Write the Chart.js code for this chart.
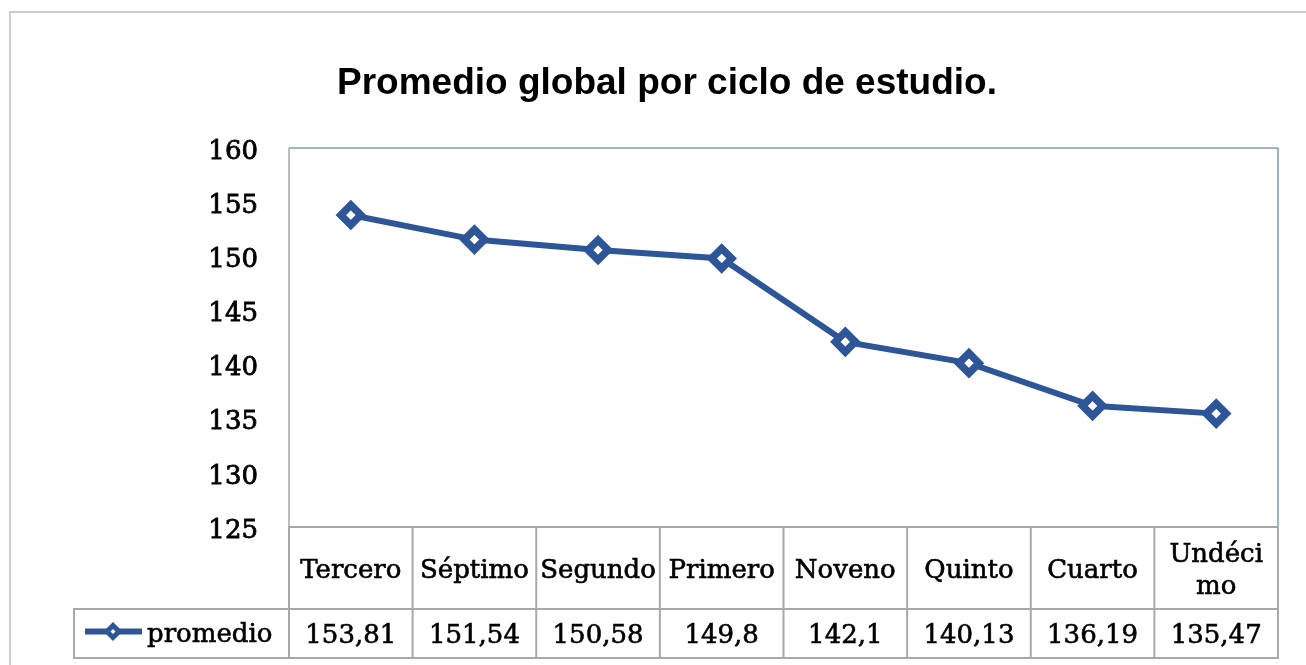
<!DOCTYPE html>
<html><head><meta charset="utf-8">
<script src="https://cdn.jsdelivr.net/npm/chart.js@4/dist/chart.umd.min.js"></script>
<style>html,body{margin:0;padding:0;background:#fff;overflow:hidden}</style>
</head><body>
<canvas id="c" width="1306" height="665"></canvas>
<script>
const TITLE = 'Promedio global por ciclo de estudio.';
const categories = ['Tercero','Séptimo','Segundo','Primero','Noveno','Quinto','Cuarto','Undécimo'];
const categoryLines = [['Tercero'],['Séptimo'],['Segundo'],['Primero'],['Noveno'],['Quinto'],['Cuarto'],['Undéci','mo']];
const seriesName = 'promedio';
const promedio = [153.81,151.54,150.58,149.8,142.1,140.13,136.19,135.47];
const yTicks = [125,130,135,140,145,150,155,160];

const SERIF = '"DejaVu Serif", serif';
const BLUE = '#2E5597';
const GRID = '#a8a8a8';
const INK = '#000';

function seg(ctx,x1,y1,x2,y2){ctx.beginPath();ctx.moveTo(x1,y1);ctx.lineTo(x2,y2);ctx.stroke();}
function diamond(ctx,x,y,r,bw){
  ctx.save();ctx.beginPath();
  ctx.moveTo(x,y-r);ctx.lineTo(x+r,y);ctx.lineTo(x,y+r);ctx.lineTo(x-r,y);ctx.closePath();
  ctx.fillStyle='#fff';ctx.fill();ctx.lineWidth=bw;ctx.strokeStyle=BLUE;ctx.lineJoin='miter';ctx.stroke();ctx.restore();
}
function txt(ctx,t,x,y){ctx.fillText(t,x,y);ctx.strokeText(t,x,y);}
const fmt = v => String(v).replace('.', ',');

const deco = {
  id:'deco',
  beforeDraw(chart){
    const ctx=chart.ctx; ctx.save();
    ctx.fillStyle='#fff'; ctx.fillRect(0,0,chart.width,chart.height);
    ctx.strokeStyle='#cccccc'; ctx.lineWidth=2; ctx.strokeRect(10,12,1400,800);
    ctx.fillStyle=INK; ctx.font='bold 37px "Liberation Sans", Arial, sans-serif';
    ctx.textAlign='center'; ctx.textBaseline='alphabetic';
    ctx.fillText(TITLE, 667, 94);
    ctx.restore();
  },
  beforeDatasetsDraw(chart){
    const ctx=chart.ctx, ca=chart.chartArea; ctx.save();
    ctx.lineWidth=1.5;
    ctx.strokeStyle='#8197c9';
    seg(ctx,ca.left,ca.top,ca.right,ca.top);
    seg(ctx,ca.right,ca.top,ca.right,ca.bottom);
    ctx.strokeStyle=GRID;
    seg(ctx,ca.left,ca.top,ca.left,ca.bottom);
    ctx.restore();
  },
  afterDraw(chart){
    const ctx=chart.ctx, ca=chart.chartArea, xs=chart.scales.x;
    const n=categories.length;
    const half=(xs.getPixelForValue(1)-xs.getPixelForValue(0))/2;
    const top=ca.bottom, mid=top+82, bot=mid+49, legLeft=74;
    ctx.save();
    ctx.strokeStyle=GRID; ctx.lineWidth=2;
    seg(ctx,ca.left-1,top,ca.right+1,top);
    seg(ctx,legLeft-1,mid,ca.right+1,mid);
    seg(ctx,legLeft-1,bot,ca.right+1,bot);
    seg(ctx,legLeft,mid,legLeft,bot);
    for(let i=0;i<=n;i++){
      const x = i<n ? xs.getPixelForValue(i)-half : xs.getPixelForValue(n-1)+half;
      seg(ctx,x,top,x,bot);
    }
    ctx.fillStyle=INK; ctx.strokeStyle=INK; ctx.lineWidth=0.6;
    ctx.font='26px '+SERIF; ctx.textAlign='center'; ctx.textBaseline='middle';
    for(let i=0;i<n;i++){
      const cx=xs.getPixelForValue(i);
      const lines=categoryLines[i], lh=32;
      const cy=(top+mid)/2+3;
      lines.forEach((t,k)=>txt(ctx,t,cx,cy+(k-(lines.length-1)/2)*lh));
      txt(ctx,fmt(promedio[i]),cx,(mid+bot)/2+3);
    }
    const ly=(mid+bot)/2-2;
    ctx.strokeStyle=BLUE; ctx.lineWidth=6;
    seg(ctx,85,ly,142,ly);
    diamond(ctx,113,ly,6,5);
    ctx.fillStyle=INK; ctx.strokeStyle=INK; ctx.lineWidth=0.6; ctx.textAlign='left';
    txt(ctx,seriesName,147,(mid+bot)/2+2);
    ctx.restore();
  }
};

new Chart(document.getElementById('c'),{
  type:'line',
  data:{labels:categories,datasets:[{
    label:seriesName,data:promedio,borderColor:BLUE,borderWidth:6,
    pointStyle:'rectRot',pointRadius:10,pointBorderWidth:7.5,pointBackgroundColor:'#fff',pointBorderColor:BLUE,
    tension:0,clip:false
  }]},
  options:{
    responsive:false,animation:false,devicePixelRatio:1,
    layout:{padding:{left:0,right:28,top:148,bottom:138}},
    plugins:{legend:{display:false},title:{display:false},tooltip:{enabled:false}},
    scales:{
      x:{type:'category',display:false,offset:true},
      y:{min:yTicks[0],max:yTicks[yTicks.length-1],
        afterFit(s){s.width=289;},
        afterBuildTicks(s){s.ticks=yTicks.map(v=>({value:v}));},
        grid:{display:false,drawTicks:false},border:{display:false},
        ticks:{padding:31,labelOffset:4,color:INK,textStrokeColor:INK,textStrokeWidth:0.8,font:{family:SERIF,size:26}}
      }
    }
  },
  plugins:[deco]
});
</script>
</body></html>
